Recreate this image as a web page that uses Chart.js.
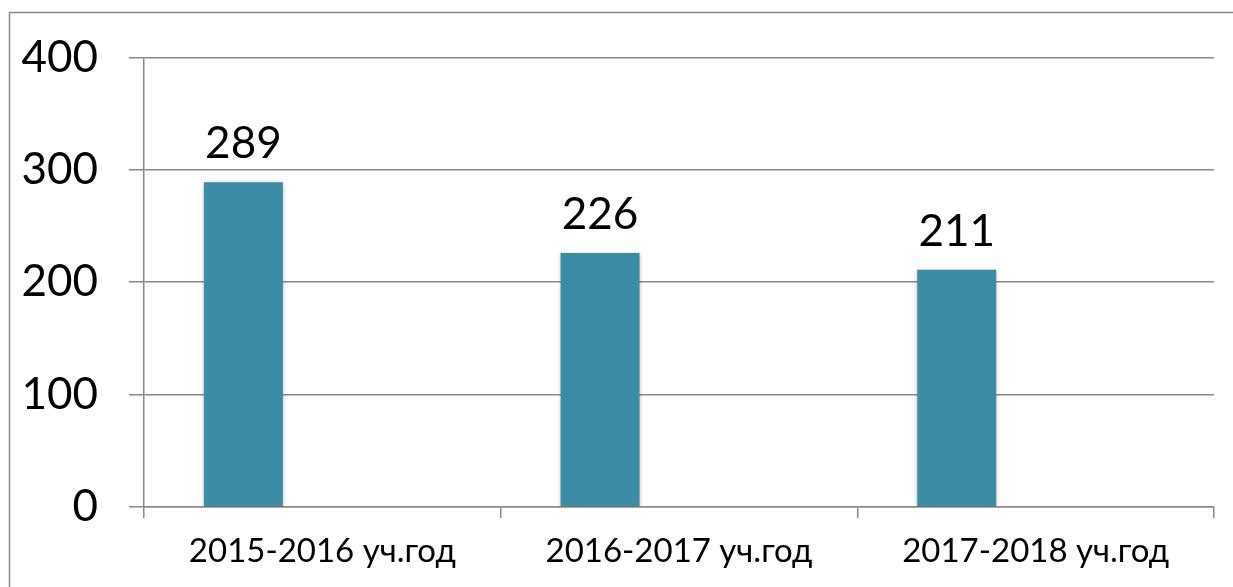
<!DOCTYPE html>
<html>
<head>
<meta charset="utf-8">
<script src="https://cdn.jsdelivr.net/npm/chart.js@4"></script>
<style>
html,body{margin:0;padding:0;background:#fff;}
#wrap{position:relative;width:1233px;height:587px;}
</style>
</head>
<body>
<div id="wrap"><canvas id="c" width="1233" height="587"></canvas></div>
<script>
const categories = ['2015-2016 уч.год', '2016-2017 уч.год', '2017-2018 уч.год'];
const values = [289, 226, 211];
const emptySeries = [null, null, null];
const yTicks = [0, 100, 200, 300, 400];

const FONT = "Lato, 'Noto Sans', sans-serif";

const frame = {
  id: 'frame',
  beforeDraw(chart) {
    const ctx = chart.ctx;
    ctx.save();
    ctx.fillStyle = '#fff';
    ctx.fillRect(0, 0, chart.width, chart.height);
    ctx.strokeStyle = '#8a8a8a';
    ctx.lineWidth = 1.5;
    ctx.strokeRect(9.5, 12.5, 1400, 800);
    ctx.restore();
  }
};

const shadow = {
  id: 'shadow',
  beforeDatasetDraw(chart, args) {
    const ctx = chart.ctx;
    ctx.save();
    ctx.shadowColor = 'rgba(0,0,0,0.28)';
    ctx.shadowBlur = 4;
    ctx.shadowOffsetX = 0;
    ctx.shadowOffsetY = 1;
  },
  afterDatasetDraw(chart) {
    chart.ctx.restore();
  }
};

const labels = {
  id: 'valueLabels',
  afterDatasetsDraw(chart) {
    const ctx = chart.ctx;
    const meta = chart.getDatasetMeta(0);
    ctx.save();
    ctx.font = '44px ' + FONT;
    ctx.fillStyle = '#000';
    ctx.textAlign = 'center';
    ctx.textBaseline = 'alphabetic';
    meta.data.forEach((bar, i) => {
      const v = chart.data.datasets[0].data[i];
      if (v == null) return;
      ctx.fillText(String(v), bar.x, bar.y - 24);
    });
    ctx.restore();
  }
};

new Chart(document.getElementById('c'), {
  type: 'bar',
  data: {
    labels: categories,
    datasets: [
      { data: values, backgroundColor: '#3d8ca5', borderWidth: 0 },
      { data: emptySeries, backgroundColor: '#3d8ca5' },
      { data: emptySeries, backgroundColor: '#3d8ca5' }
    ]
  },
  options: {
    responsive: false,
    animation: false,
    devicePixelRatio: 1,
    layout: { padding: { left: 0, right: 19, top: 55, bottom: 0 } },
    plugins: { legend: { display: false }, tooltip: { enabled: false } },
    datasets: { bar: { categoryPercentage: 0.664, barPercentage: 1.0 } },
    scales: {
      x: {
        grid: {
          offset: true,
          drawOnChartArea: false,
          drawTicks: true,
          tickLength: 11,
          color: '#8a8a8a',
          lineWidth: 1.5
        },
        border: { display: true, color: '#8a8a8a', width: 1.5 },
        ticks: {
          color: '#000',
          font: { family: FONT, size: 33 },
          padding: 14,
          maxRotation: 0,
          autoSkip: false
        },
        afterFit(s) { s.height = 80; }
      },
      y: {
        min: 0,
        max: 400,
        afterBuildTicks(s) { s.ticks = yTicks.map(v => ({ value: v })); },
        grid: {
          drawOnChartArea: true,
          drawTicks: true,
          tickLength: 15,
          color: '#8a8a8a',
          lineWidth: 1.5
        },
        border: { display: true, color: '#8a8a8a', width: 1.5 },
        ticks: {
          color: '#000',
          font: { family: FONT, size: 44 },
          padding: 31
        },
        afterFit(s) { s.width = 144; }
      }
    }
  },
  plugins: [frame, shadow, labels]
});
</script>
</body>
</html>
